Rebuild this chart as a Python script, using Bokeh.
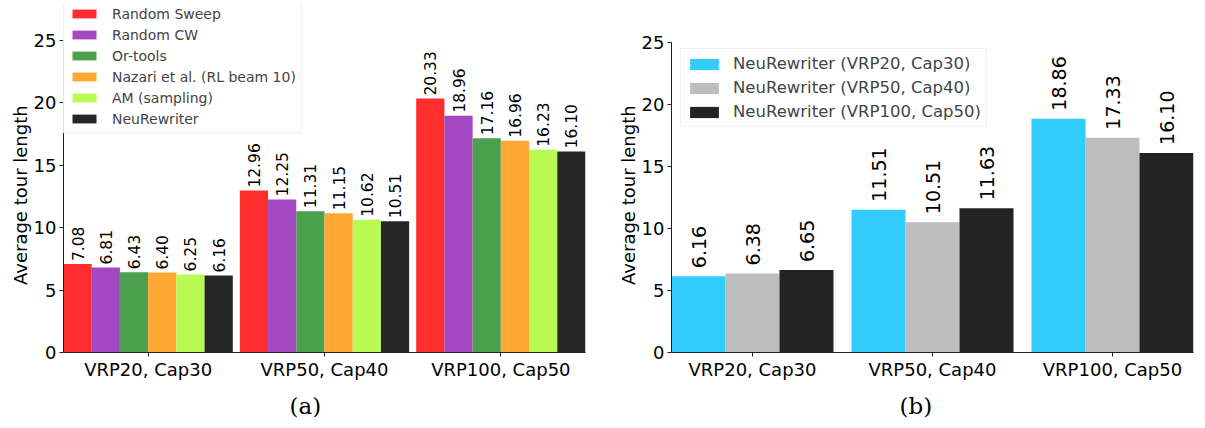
import math
from bokeh.plotting import figure
from bokeh.layouts import row
from bokeh.models import FixedTicker, Legend, LegendItem, Range1d, Title
from bokeh.embed import file_html
from bokeh.resources import INLINE

# ---------------- data ----------------
groups = ["VRP20, Cap30", "VRP50, Cap40", "VRP100, Cap50"]

series_a = ["Random Sweep", "Random CW", "Or-tools",
            "Nazari et al. (RL beam 10)", "AM (sampling)", "NeuRewriter"]
random_sweep = [7.08, 12.96, 20.33]
random_cw = [6.81, 12.25, 18.96]
or_tools = [6.43, 11.31, 17.16]
nazari = [6.40, 11.15, 16.96]
am_sampling = [6.25, 10.62, 16.23]
neurewriter = [6.16, 10.51, 16.10]
colors_a = ["#ff2d2d", "#a448c2", "#4c9f4c", "#ffa733", "#b9fb52", "#262626"]

series_b = ["NeuRewriter (VRP20, Cap30)", "NeuRewriter (VRP50, Cap40)",
            "NeuRewriter (VRP100, Cap50)"]
nr_vrp20 = [6.16, 11.51, 18.86]
nr_vrp50 = [6.38, 10.51, 17.33]
nr_vrp100 = [6.65, 11.63, 16.10]
colors_b = ["#33ccff", "#bdbdbd", "#232323"]

y_ticks = [0, 5, 10, 15, 20, 25]
FONT = "DejaVu Sans"


def make_panel(names, values, colors, bar_w, x_range, y_max, width, height,
               border_left, border_right, border_top, border_bottom,
               label_size, label_gap, legend_loc, legend_font, glyph_w, glyph_h,
               label_h, spacing, standoff, caption, caption_offset, ylabel):
    p = figure(width=width, height=height, output_backend="svg", title=None,
               toolbar_location=None, x_range=Range1d(*x_range),
               y_range=Range1d(0, y_max), min_border_left=border_left,
               min_border_right=border_right, min_border_top=border_top,
               min_border_bottom=border_bottom)
    p.outline_line_color = None
    p.grid.visible = False
    p.background_fill_color = "white"
    p.border_fill_color = "white"

    n = len(names)
    items = []
    for i, (name, vals, col) in enumerate(zip(names, values, colors)):
        off = (i - (n - 1) / 2) * bar_w
        xs = [g + off for g in range(len(groups))]
        r = p.vbar(x=xs, top=vals, width=bar_w, fill_color=col, line_color=None)
        items.append(LegendItem(label=name, renderers=[r]))
        p.text(x=xs, y=vals, text=[f"{v:.2f}" for v in vals], angle=math.pi / 2,
               text_align="left", text_baseline="middle", x_offset=0,
               y_offset=-label_gap, text_font_size=label_size,
               text_font={"value": FONT}, text_color="black")

    for ax in (p.xaxis[0], p.yaxis[0]):
        ax.axis_line_color = "#222222"
        ax.major_tick_line_color = "#222222"
        ax.major_tick_in = 0
        ax.major_tick_out = 4
        ax.minor_tick_line_color = None
        ax.major_label_text_font = FONT
        ax.major_label_text_font_size = "18px"
        ax.major_label_text_color = "black"

    p.xaxis.ticker = FixedTicker(ticks=list(range(len(groups))))
    p.xaxis.major_label_overrides = {i: g for i, g in enumerate(groups)}
    p.xaxis.major_label_standoff = 2
    p.yaxis.ticker = FixedTicker(ticks=y_ticks)
    p.yaxis.bounds = (0, 25)
    p.yaxis.major_label_standoff = 3
    p.yaxis.axis_label = ylabel
    p.yaxis.axis_label_text_font = FONT
    p.yaxis.axis_label_text_font_size = "18px"
    p.yaxis.axis_label_text_font_style = "normal"
    p.yaxis.axis_label_text_color = "black"
    p.yaxis.axis_label_standoff = 0

    legend = Legend(items=items, location=legend_loc, orientation="vertical",
                    label_text_font=FONT, label_text_font_size=legend_font,
                    glyph_width=glyph_w, glyph_height=glyph_h,
                    label_height=label_h, label_standoff=standoff, spacing=spacing,
                    padding=5, margin=0, border_line_color="#e4e4e4",
                    background_fill_color="white", background_fill_alpha=0.85)
    p.add_layout(legend, "center")

    cap = Title(text=caption, align="left", offset=caption_offset,
                text_font="DejaVu Serif", text_font_size="23px",
                text_font_style="normal", text_color="black", standoff=16)
    p.add_layout(cap, "below")
    return p


NB = "\u00a0"
ylab = "Average tour length" + NB * 6

pa = make_panel(series_a, [random_sweep, random_cw, or_tools, nazari, am_sampling, neurewriter],
                colors_a, 0.16, (-0.48, 2.48), 27.94, 610, 428,
                63, 25, 3, 73, "15.5px", 3, (0, 219), "14px", 30, 11, 17, 4, 13,
                "(a)", 226, ylab)

pb = make_panel(series_b, [nr_vrp20, nr_vrp50, nr_vrp100],
                colors_b, 0.30, (-0.45, 2.45), 28.15, 595, 428,
                61, 12, 3, 76, "19px", 8, (9, 225), "16.5px", 36, 14, 19, 5, 11,
                "(b)", 228, ylab)

layout = row(pa, pb)
open("out.html", "w").write(file_html(layout, INLINE))
